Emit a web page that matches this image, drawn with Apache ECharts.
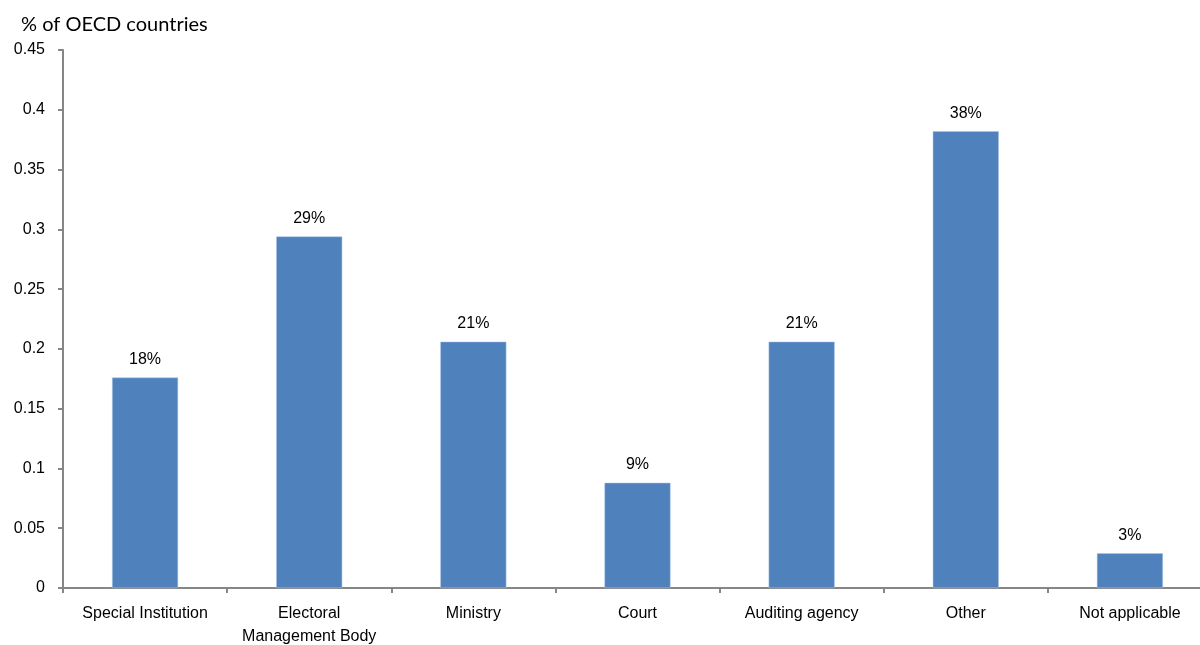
<!DOCTYPE html>
<html>
<head>
<meta charset="utf-8">
<script src="https://cdn.jsdelivr.net/npm/echarts@6/dist/echarts.min.js"></script>
<style>html,body{margin:0;padding:0;background:#fff}#c{width:1200px;height:645px}</style>
</head>
<body>
<div id="c"></div>
<script>
const categories = ["Special Institution", "Electoral\nManagement Body", "Ministry", "Court", "Auditing agency", "Other", "Not applicable"];
const values = [0.176, 0.294, 0.206, 0.088, 0.206, 0.382, 0.029];
const yTicks = [0, 0.05, 0.1, 0.15, 0.2, 0.25, 0.3, 0.35, 0.4, 0.45];

const chart = echarts.init(document.getElementById('c'), null, {renderer: 'canvas'});
chart.setOption({
  animation: false,
  backgroundColor: '#fff',
  title: {
    text: '% of OECD countries',
    left: 16, top: 10,
    textStyle: {fontFamily: 'Lato', fontSize: 20, fontWeight: 'normal', color: '#000'}
  },
  grid: {left: 63, top: 50, right: -12, bottom: 57, containLabel: false, outerBoundsMode: 'none'},
  xAxis: {
    type: 'category',
    data: categories,
    axisLine: {lineStyle: {color: '#868686', width: 2}},
    axisTick: {show: true, length: 5, lineStyle: {color: '#868686', width: 2}},
    axisLabel: {fontFamily: 'Liberation Sans', fontSize: 16, color: '#000', margin: 14, interval: 0, lineHeight: 23}
  },
  yAxis: {
    type: 'value',
    min: 0, max: 0.45, interval: 0.05,
    splitLine: {show: false},
    axisLine: {show: true, lineStyle: {color: '#868686', width: 2}},
    axisTick: {show: true, length: 5, lineStyle: {color: '#868686', width: 2}},
    axisLabel: {
      fontFamily: 'Liberation Sans', fontSize: 16, color: '#000', margin: 18,
      formatter: v => { const t = yTicks.find(x => Math.abs(x - v) < 1e-9); return String(t !== undefined ? t : v); }
    }
  },
  series: [{
    type: 'bar',
    data: values,
    barWidth: 66,
    itemStyle: {color: '#4F81BD', borderColor: '#A9C4E6', borderWidth: 0.5},
    label: {
      show: true, position: 'top', distance: 10,
      fontFamily: 'Liberation Sans', fontSize: 16, color: '#000',
      formatter: p => Math.round(p.value * 100) + '%'
    }
  }]
});
</script>
</body>
</html>
